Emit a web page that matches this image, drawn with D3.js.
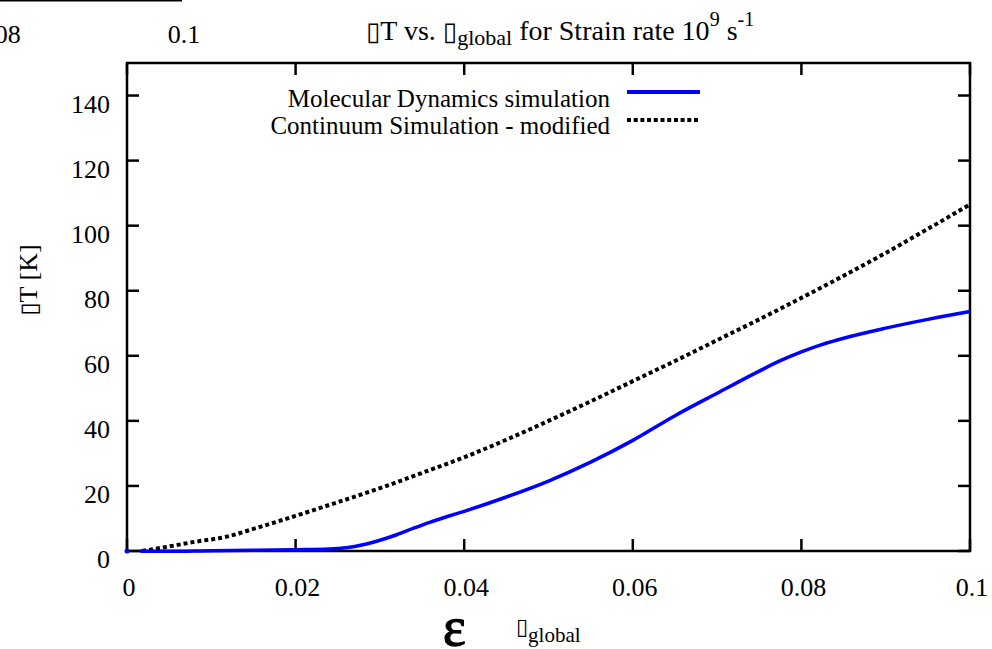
<!DOCTYPE html>
<html>
<head>
<meta charset="utf-8">
<script src="https://cdn.jsdelivr.net/npm/d3@7"></script>
<style>
  html, body { margin: 0; padding: 0; background: #fff; }
  svg text { font-family: "Liberation Serif", "Times New Roman", serif; fill: #000; }
  svg .box { font-family: "DejaVu Sans"; }
</style>
</head>
<body>
<div id="chart"></div>
<script>
// Molecular Dynamics simulation (blue solid)
const mdStartStrain = [0];
const mdStartDeltaT = [0];
const mdStrain = [0.0015, 0.005, 0.01, 0.015, 0.02, 0.024, 0.026, 0.028, 0.03, 0.032, 0.034, 0.036, 0.038,
  0.04, 0.045, 0.05, 0.055, 0.06, 0.065, 0.07, 0.075, 0.0775, 0.08, 0.0825, 0.085, 0.09, 0.095, 0.1];
const mdDeltaT = [0, -0.1, 0.1, 0.2, 0.4, 0.6, 1.0, 1.9, 3.3, 5.0, 7.0, 8.9, 10.6,
  12.2, 16.6, 21.5, 27.3, 34.0, 41.6, 48.5, 55.3, 58.5, 61.2, 63.5, 65.4, 68.5, 71.2, 73.6];

// Continuum Simulation - modified (black dotted)
const contStrain = [0.0018, 0.005, 0.008, 0.012, 0.015, 0.02, 0.025, 0.03, 0.035, 0.04, 0.045, 0.05,
  0.055, 0.06, 0.065, 0.07, 0.075, 0.08, 0.085, 0.09, 0.095, 0.1];
const contDeltaT = [0, 1.4, 2.8, 4.5, 6.8, 10.8, 15.0, 19.3, 24.0, 28.8, 34.2, 40.0,
  46.0, 52.2, 58.4, 64.8, 71.2, 77.8, 84.6, 91.6, 99.0, 106.5];

const xTicks = [0, 0.02, 0.04, 0.06, 0.08, 0.1];
const yTicks = [0, 20, 40, 60, 80, 100, 120, 140];
// tick labels of the neighbouring panel, cut off at the top left
const leftoverTicks = [0.08, 0.1];

const seriesNames = ['Molecular Dynamics simulation', 'Continuum Simulation - modified'];

// the symbol-font Delta / epsilon come out as empty boxes in the original
const BOX = '\u25AF';

const width = 992, height = 649;
const margin = { top: 63, right: 22, bottom: 98, left: 127 };

const svg = d3.select('#chart').append('svg')
  .attr('width', width)
  .attr('height', height);

const x = d3.scaleLinear().domain([0, 0.1]).range([margin.left, width - margin.right]);
const y = d3.scaleLinear().domain([0, 150]).range([height - margin.bottom, margin.top]);

const fmt = d => (d === 0 ? '0' : String(+d.toFixed(2)));

// leftover of the panel to the left
const xLeft = d3.scaleLinear().domain([0.08, 0.1]).range([-2, 184]);
svg.append('line')
  .attr('x1', 0).attr('x2', 182).attr('y1', 0.5).attr('y2', 0.5)
  .attr('stroke', '#000').attr('stroke-width', 2);
svg.selectAll('.leftover')
  .data(leftoverTicks)
  .join('text')
  .attr('x', d => xLeft(d))
  .attr('y', 43)
  .attr('text-anchor', 'middle')
  .attr('font-size', 26)
  .text(fmt);

// frame with inward ticks on all four sides
const tick = 12;
const plot = svg.append('g');
xTicks.forEach(t => {
  plot.append('line').attr('x1', x(t)).attr('x2', x(t))
    .attr('y1', y(0)).attr('y2', y(0) - tick);
  plot.append('line').attr('x1', x(t)).attr('x2', x(t))
    .attr('y1', y(150)).attr('y2', y(150) + tick);
});
yTicks.forEach(t => {
  plot.append('line').attr('x1', x(0)).attr('x2', x(0) + tick)
    .attr('y1', y(t)).attr('y2', y(t));
  plot.append('line').attr('x1', x(0.1)).attr('x2', x(0.1) - tick)
    .attr('y1', y(t)).attr('y2', y(t));
});
plot.append('rect')
  .attr('x', x(0)).attr('y', y(150))
  .attr('width', x(0.1) - x(0)).attr('height', y(0) - y(150))
  .attr('fill', 'none');
plot.selectAll('line, rect').attr('stroke', '#000').attr('stroke-width', 2.5);

// tick labels
svg.selectAll('.xlab')
  .data(xTicks)
  .join('text')
  .attr('x', d => x(d) + 2)
  .attr('y', y(0) + 45)
  .attr('text-anchor', 'middle')
  .attr('font-size', 26)
  .text(fmt);

svg.selectAll('.ylab')
  .data(yTicks)
  .join('text')
  .attr('x', x(0) - 17)
  .attr('y', d => y(d) + 17)
  .attr('text-anchor', 'end')
  .attr('font-size', 26)
  .text(d => d);

// curves
const line = d3.line()
  .x(d => x(d[0]))
  .y(d => y(d[1]))
  .curve(d3.curveMonotoneX);

svg.append('path')
  .datum(contStrain.map((s, i) => [s, contDeltaT[i]]))
  .attr('fill', 'none')
  .attr('stroke', '#000')
  .attr('stroke-width', 4)
  .attr('stroke-dasharray', '4,3')
  .attr('d', line);

svg.append('path')
  .datum(mdStrain.map((s, i) => [s, mdDeltaT[i]]))
  .attr('fill', 'none')
  .attr('stroke', '#0000ff')
  .attr('stroke-width', 3.5)
  .attr('d', line);

svg.selectAll('.mdstart')
  .data(mdStartStrain.map((s, i) => [s, mdStartDeltaT[i]]))
  .join('circle')
  .attr('cx', d => x(d[0]))
  .attr('cy', d => y(d[1]))
  .attr('r', 2.5)
  .attr('fill', '#0000ff');

// legend
const legend = svg.append('g');
const legendY = [107, 134];
const sampleY = [92, 120];
legend.selectAll('text')
  .data(seriesNames)
  .join('text')
  .attr('x', 610)
  .attr('y', (d, i) => legendY[i])
  .attr('text-anchor', 'end')
  .attr('font-size', 25)
  .text(d => d);
legend.append('line')
  .attr('x1', 627).attr('x2', 700).attr('y1', sampleY[0]).attr('y2', sampleY[0])
  .attr('stroke', '#0000ff').attr('stroke-width', 4);
legend.append('line')
  .attr('x1', 627).attr('x2', 700).attr('y1', sampleY[1]).attr('y2', sampleY[1])
  .attr('stroke', '#000').attr('stroke-width', 4).attr('stroke-dasharray', '4,2.7');

// title
const title = svg.append('text')
  .attr('x', 366)
  .attr('y', 40)
  .attr('font-size', 28);
title.append('tspan').attr('class', 'box').attr('font-size', 26).text(BOX);
title.append('tspan').text('T vs. ');
title.append('tspan').attr('class', 'box').attr('font-size', 26).text(BOX);
title.append('tspan').attr('font-size', 22).attr('dy', 5).text('global');
title.append('tspan').attr('dy', -5).text(' for Strain rate 10');
title.append('tspan').attr('font-size', 20).attr('dy', -14).text('9');
title.append('tspan').attr('dy', 14).text(' s');
title.append('tspan').attr('font-size', 20).attr('dy', -14).text('-1');

// y axis label
const ylab = svg.append('text')
  .attr('transform', 'translate(37,280) rotate(-90)')
  .attr('text-anchor', 'middle')
  .attr('font-size', 26);
ylab.append('tspan').attr('class', 'box').attr('font-size', 24).text(BOX);
ylab.append('tspan').text('T [K]');

// x axis label
svg.append('text')
  .attr('x', 443)
  .attr('y', 645)
  .attr('font-size', 54)
  .attr('stroke', '#000')
  .attr('stroke-width', 1.3)
  .text('\u03b5');
const xlab = svg.append('text')
  .attr('x', 516)
  .attr('y', 634)
  .attr('font-size', 24);
xlab.append('tspan').attr('class', 'box').attr('font-size', 22).text(BOX);
xlab.append('tspan').attr('font-size', 21).attr('dy', 8).text('global');
</script>
</body>
</html>
